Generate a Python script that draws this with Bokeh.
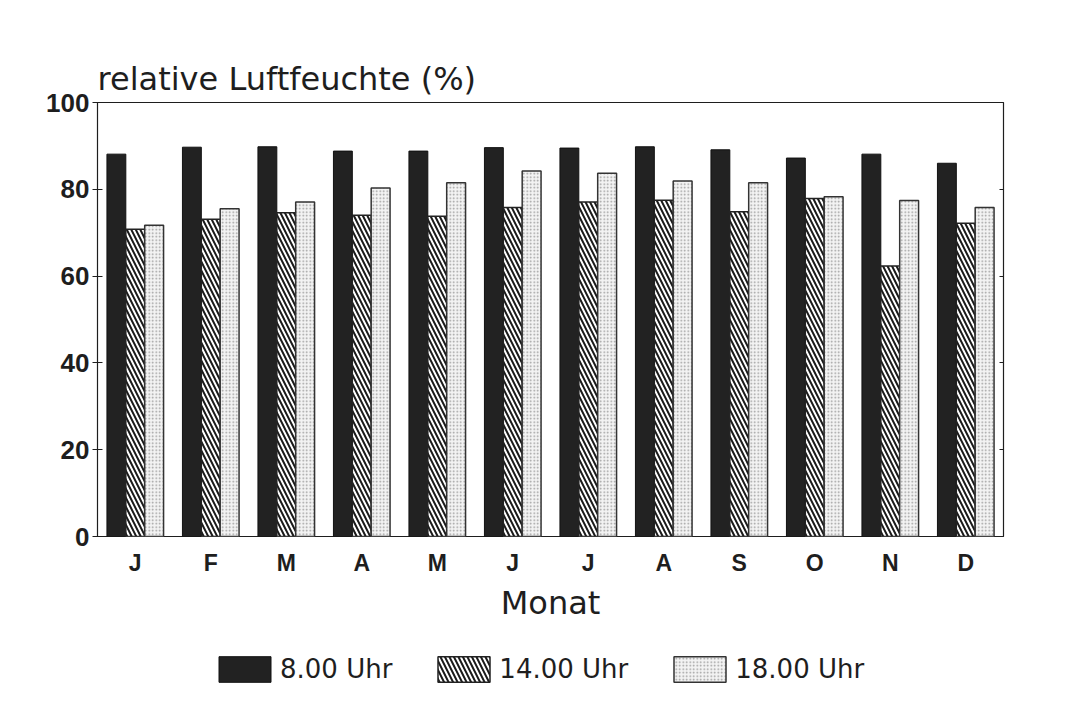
import numpy as np
from bokeh.plotting import figure
from bokeh.layouts import column
from bokeh.models import (Range1d, FixedTicker, LinearAxis, Legend, LegendItem)
from bokeh.embed import file_html
from bokeh.resources import INLINE

months = ["J", "F", "M", "A", "M", "J", "J", "A", "S", "O", "N", "D"]
uhr8 = [88.1, 89.7, 89.8, 88.8, 88.8, 89.6, 89.5, 89.8, 89.1, 87.2, 88.1, 86.0]
uhr14 = [70.8, 73.1, 74.6, 74.0, 73.8, 75.8, 77.1, 77.5, 74.8, 77.9, 62.3, 72.2]
uhr18 = [71.7, 75.5, 77.1, 80.3, 81.5, 84.2, 83.7, 81.9, 81.5, 78.3, 77.4, 75.8]
series_labels = ["8.00 Uhr", "14.00 Uhr", "18.00 Uhr"]
y_ticks = [0, 20, 40, 60, 80, 100]

FONT = "Liberation Sans"
WIDE = "DejaVu Sans"
DARK = "#1e1e1e"

styles = [
    dict(fill_color="#222222", line_color="#111111", line_width=1),
    dict(fill_color="white", line_color="#222222", line_width=1.5,
         hatch_pattern="\\", hatch_color="#1a1a1a", hatch_scale=9,
         hatch_weight=2),
    dict(fill_color="#f3f3f3", line_color="#333333", line_width=1.5,
         hatch_pattern=".", hatch_color="#9a9a9a", hatch_scale=3.5,
         hatch_weight=1),
]
series = [uhr8, uhr14, uhr18]

x = np.arange(len(months))
w = 0.25
offsets = [-w, 0, w]

p = figure(width=1054, height=624, output_backend="svg", toolbar_location=None,
           x_range=Range1d(-0.5, len(months) - 0.5), y_range=Range1d(0, 100),
           x_axis_type=None, y_axis_type=None,
           min_border_left=97, min_border_top=102, min_border_right=51,
           min_border_bottom=84)

p.title.text = "relative Luftfeuchte (%)"
p.title.text_font = WIDE
p.title.text_font_size = "32px"
p.title.text_font_style = "normal"
p.title.text_color = DARK
p.title.align = "left"
p.title.offset = 0
p.title.standoff = 10

p.outline_line_color = DARK
p.outline_line_width = 1.2
p.background_fill_color = "white"
p.border_fill_color = "white"

for vals, off, st in zip(series, offsets, styles):
    p.vbar(x=x + off, top=vals, width=w, bottom=0, **st)

# y axis (left)
yax = LinearAxis(ticker=FixedTicker(ticks=y_ticks))
yax.axis_line_color = None
yax.major_tick_in = 5
yax.major_tick_out = 5
yax.major_tick_line_color = DARK
yax.minor_tick_line_color = None
yax.major_label_text_font = FONT
yax.major_label_text_font_size = "26px"
yax.major_label_text_font_style = "bold"
yax.major_label_text_color = DARK
yax.major_label_standoff = 3
p.add_layout(yax, "left")

# right ticks inside
yax_r = LinearAxis(ticker=FixedTicker(ticks=y_ticks))
yax_r.axis_line_color = None
yax_r.major_tick_in = 4
yax_r.major_tick_out = 0
yax_r.major_tick_line_color = DARK
yax_r.minor_tick_line_color = None
yax_r.major_label_text_font_size = "1px"
yax_r.major_label_text_color = None
yax_r.major_label_standoff = 0
p.add_layout(yax_r, "right")

# x axis
xax = LinearAxis(ticker=FixedTicker(ticks=list(x)))
xax.major_label_overrides = {int(i): m for i, m in zip(x, months)}
xax.axis_line_color = None
xax.major_tick_line_color = None
xax.minor_tick_line_color = None
xax.major_tick_in = 0
xax.major_tick_out = 0
xax.major_label_text_font = FONT
xax.major_label_text_font_size = "23px"
xax.major_label_text_font_style = "bold"
xax.major_label_text_color = DARK
xax.major_label_standoff = 13
xax.axis_label = "Monat"
xax.axis_label_text_font = WIDE
xax.axis_label_text_font_size = "32px"
xax.axis_label_text_font_style = "normal"
xax.axis_label_text_color = DARK
xax.axis_label_standoff = 5
p.add_layout(xax, "below")

# grid
p.ygrid.ticker = FixedTicker(ticks=[20, 40, 60, 80])
p.xgrid.grid_line_color = None
p.ygrid.grid_line_color = "#9a9a9a"
p.ygrid.grid_line_width = 1
p.ygrid.grid_line_dash = "2 1"

# legend panel: same series as hidden renderers, only their legend shows
lg = figure(width=1054, height=82, output_backend="svg", toolbar_location=None,
            x_range=Range1d(-0.5, len(months) - 0.5), y_range=Range1d(0, 100),
            x_axis_type=None, y_axis_type=None,
            min_border_left=0, min_border_right=0, min_border_top=0,
            min_border_bottom=0)
lg.outline_line_color = None
lg.xgrid.visible = False
lg.ygrid.visible = False
lg.background_fill_color = "white"
lg.border_fill_color = "white"
lr = [lg.vbar(x=x + off, top=vals, width=w, bottom=0, visible=False, **st)
      for vals, off, st in zip(series, offsets, styles)]

legend = Legend(items=[LegendItem(label=lab, renderers=[r])
                       for lab, r in zip(series_labels, lr)],
                orientation="horizontal", location=(115, 21))
legend.glyph_width = 65
legend.glyph_height = 32
legend.label_text_font = WIDE
legend.label_text_font_size = "26px"
legend.label_text_color = DARK
legend.label_standoff = 3
legend.spacing = 39
legend.border_line_color = None
legend.background_fill_color = None
legend.margin = 0
legend.padding = 0
lg.add_layout(legend, "center")

layout = column(p, lg, spacing=0)

open("out.html", "w").write(file_html(layout, INLINE))
